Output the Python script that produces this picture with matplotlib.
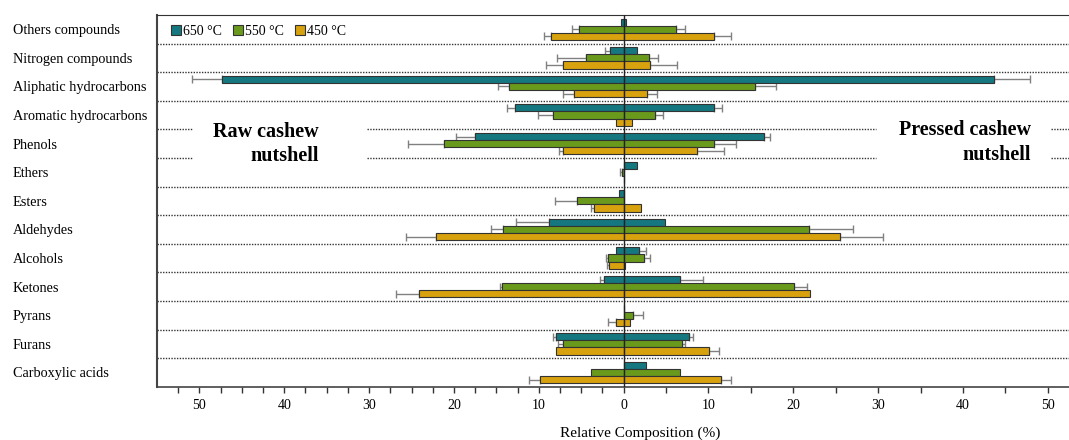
import matplotlib
matplotlib.use('Agg')
import matplotlib.pyplot as plt
import numpy as np
from matplotlib.ticker import FixedLocator, FuncFormatter

plt.rcParams['font.family'] = ['Liberation Serif', 'DejaVu Serif']
plt.rcParams['font.size'] = 10

categories = ['Others compounds', 'Nitrogen compounds', 'Aliphatic hydrocarbons',
              'Aromatic hydrocarbons', 'Phenols', 'Ethers', 'Esters', 'Aldehydes',
              'Alcohols', 'Ketones', 'Pyrans', 'Furans', 'Carboxylic acids']
series = ['650 °C', '550 °C', '450 °C']

# raw cashew nutshell (drawn to the left)
raw_650 = [0.3, 1.6, 47.4, 12.8, 17.5, 0.0, 0.5, 8.8, 0.9, 2.3, 0.0, 8.0, 0.0]
raw_550 = [5.3, 4.4, 13.5, 8.3, 21.2, 0.2, 5.5, 14.2, 1.9, 14.3, 0.0, 7.1, 3.9]
raw_450 = [8.6, 7.1, 5.9, 0.9, 7.2, 0.0, 3.5, 22.1, 1.7, 24.1, 0.9, 8.0, 9.9]
raw_650_err = [0.0, 0.6, 3.5, 1.0, 2.2, 0.0, 0.0, 3.9, 0.0, 0.5, 0.0, 0.35, 0.0]
raw_550_err = [0.8, 3.4, 1.3, 1.8, 4.2, 0.2, 2.6, 1.4, 0.2, 0.3, 0.0, 0.6, 0.0]
raw_450_err = [0.8, 2.0, 1.3, 0.0, 0.4, 0.0, 0.4, 3.6, 0.3, 2.7, 0.9, 0.0, 1.2]

# pressed cashew nutshell (drawn to the right)
pre_650 = [0.3, 1.6, 43.7, 10.6, 16.6, 1.6, 0.0, 4.9, 1.8, 6.6, 0.0, 7.7, 2.6]
pre_550 = [6.2, 3.0, 15.5, 3.7, 10.6, 0.0, 0.0, 21.9, 2.4, 20.1, 1.1, 6.9, 6.6]
pre_450 = [10.6, 3.1, 2.7, 1.0, 8.7, 0.0, 2.0, 25.5, 0.15, 22.0, 0.75, 10.1, 11.5]
pre_650_err = [0.0, 0.0, 4.2, 1.0, 0.7, 0.0, 0.0, 0.0, 0.8, 2.7, 0.0, 0.5, 0.0]
pre_550_err = [1.0, 1.0, 2.5, 1.0, 2.7, 0.0, 0.0, 5.1, 0.7, 1.5, 1.2, 0.3, 0.0]
pre_450_err = [2.0, 3.2, 1.2, 0.0, 3.1, 0.0, 0.0, 5.1, 0.0, 0.0, 0.0, 1.1, 1.1]

colors = ['#157880', '#6a9a1c', '#d8a10e']

raw = [raw_650, raw_550, raw_450]
raw_err = [raw_650_err, raw_550_err, raw_450_err]
pre = [pre_650, pre_550, pre_450]
pre_err = [pre_650_err, pre_550_err, pre_450_err]

fig = plt.figure(figsize=(10.69, 4.40), dpi=100)
ax = fig.add_axes([0.1469, 0.121, 0.8531, 0.845])

y = np.arange(len(categories))
h = 0.25
offsets = [-h, 0, h]
err_kw = dict(ecolor='#808080', elinewidth=1.0, capsize=3, capthick=1.0)

for i in range(3):
    r = np.array(raw[i])
    p = np.array(pre[i])
    re = np.array(raw_err[i])
    pe = np.array(pre_err[i])
    ax.barh(y + offsets[i], -r, height=h, color=colors[i], edgecolor='#333333',
            linewidth=0.8, zorder=3, label=series[i])
    ax.barh(y + offsets[i], p, height=h, color=colors[i], edgecolor='#333333',
            linewidth=0.8, zorder=3)
    m = re > 0
    ax.errorbar(-r[m], (y + offsets[i])[m], xerr=[re[m], np.zeros(m.sum())],
                fmt='none', zorder=2, **err_kw)
    m = pe > 0
    ax.errorbar(p[m], (y + offsets[i])[m], xerr=[np.zeros(m.sum()), pe[m]],
                fmt='none', zorder=2, **err_kw)

ax.set_xlim(-55, 52.5)
ax.set_ylim(len(categories) - 0.5, -0.5)

# dotted separators between categories
dot = dict(color='#333333', linewidth=1.0, linestyle=(0, (1, 1)), zorder=1)
for b in np.arange(0.5, len(categories) - 1, 1.0):
    if b in (3.5, 4.5):
        for x0, x1 in [(-55, -50.8), (-30.2, 29.8), (50.4, 52.5)]:
            ax.hlines(b, x0, x1, **dot)
    else:
        ax.axhline(b, **dot)

ax.axvline(0, color='#222222', linewidth=1.0, zorder=4)

ax.text(-35.9, 4.02, 'Raw cashew\nnutshell', ha='right', va='center',
        fontsize=14.5, fontweight='bold', linespacing=1.3)
ax.text(48.0, 3.96, 'Pressed cashew\nnutshell', ha='right', va='center',
        fontsize=14.5, fontweight='bold', linespacing=1.3)

ax.set_yticks(y)
ax.set_yticklabels(categories, ha='left', fontsize=10.3)
ax.tick_params(axis='y', length=0, pad=104)

ax.set_xticks([-50, -40, -30, -20, -10, 0, 10, 20, 30, 40, 50])
ax.xaxis.set_major_formatter(FuncFormatter(lambda v, pos: '%d' % abs(v)))
minor = [v for v in np.arange(-52.5, 0, 2.5) if v % 10 != 0] + [5, 15, 25, 35, 45]
ax.xaxis.set_minor_locator(FixedLocator(minor))
ax.tick_params(axis='x', which='both', direction='out', length=4, width=1,
               color='#333333', pad=5)
ax.set_xlabel('Relative Composition (%)', fontsize=11, labelpad=10, x=0.53)

ax.spines['right'].set_visible(False)
ax.spines['top'].set_linestyle((0, (1, 1)))
ax.spines['top'].set_color('#333333')
ax.spines['left'].set_linewidth(1.5)
ax.spines['left'].set_color('#444444')
ax.spines['bottom'].set_linewidth(1.2)
ax.spines['bottom'].set_color('#444444')

ax.legend(loc='upper left', bbox_to_anchor=(0.005, 1.0), ncol=3, frameon=False,
          handlelength=0.7, handleheight=0.7, handletextpad=0.15,
          columnspacing=0.8, fontsize=10, borderaxespad=0.3)

fig.savefig('out.png', dpi=100)
